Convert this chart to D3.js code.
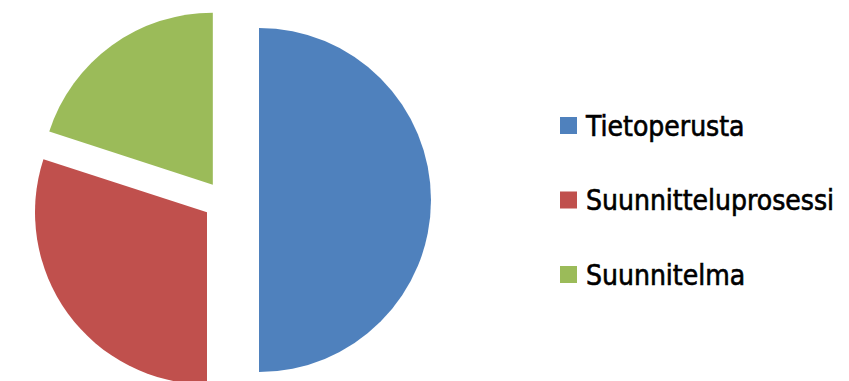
<!DOCTYPE html>
<html>
<head>
  <title>Pie</title>
  <script src="https://d3js.org/d3.v7.min.js"></script>
  <style>
    body { margin: 0; background: #fff; }
    .legend text { font-family: "DejaVu Sans Condensed", "Liberation Sans Narrow", sans-serif; font-size: 28px; fill: #000; stroke: #000; stroke-width: 0.6px; }
  </style>
</head>
<body>
  <svg id="chart" width="849" height="381"></svg>
  <script>
    // data
    const labels = ["Tietoperusta", "Suunnitteluprosessi", "Suunnitelma"];
    const values = [50, 30, 20];
    const colors = ["#4F81BD", "#C0504D", "#9BBB59"];
    // how far each slice is pulled out (px)
    const explode = [35, 21, 19];

    const data = labels.map((l, i) => ({label: l, value: values[i], color: colors[i], off: explode[i]}));

    const svg = d3.select("#chart");
    const cx = 224, cy = 200, radius = 172;

    const pie = d3.pie().value(d => d.value).sort(null);
    const arc = d3.arc().innerRadius(0).outerRadius(radius);

    const chart = svg.append("g").attr("transform", `translate(${cx}, ${cy})`);

    chart.selectAll(".slice")
      .data(pie(data))
      .enter()
      .append("path")
      .attr("class", "slice")
      .attr("d", arc)
      .attr("fill", d => d.data.color)
      .attr("transform", d => {
        const mid = (d.startAngle + d.endAngle) / 2;
        return `translate(${Math.sin(mid) * d.data.off}, ${-Math.cos(mid) * d.data.off})`;
      });

    // legend
    const rowGap = 74.5;
    const legend = svg.append("g").attr("class", "legend")
      .attr("transform", `translate(560, ${cy - rowGap})`);

    const rows = legend.selectAll("g")
      .data(data)
      .enter()
      .append("g")
      .attr("transform", (d, i) => `translate(0, ${i * rowGap})`);

    rows.append("rect")
      .attr("x", 0).attr("y", -8.5)
      .attr("width", 17).attr("height", 17)
      .attr("fill", d => d.color);

    rows.append("text")
      .attr("x", 26).attr("y", 10)
      .text(d => d.label);
  </script>
</body>
</html>
